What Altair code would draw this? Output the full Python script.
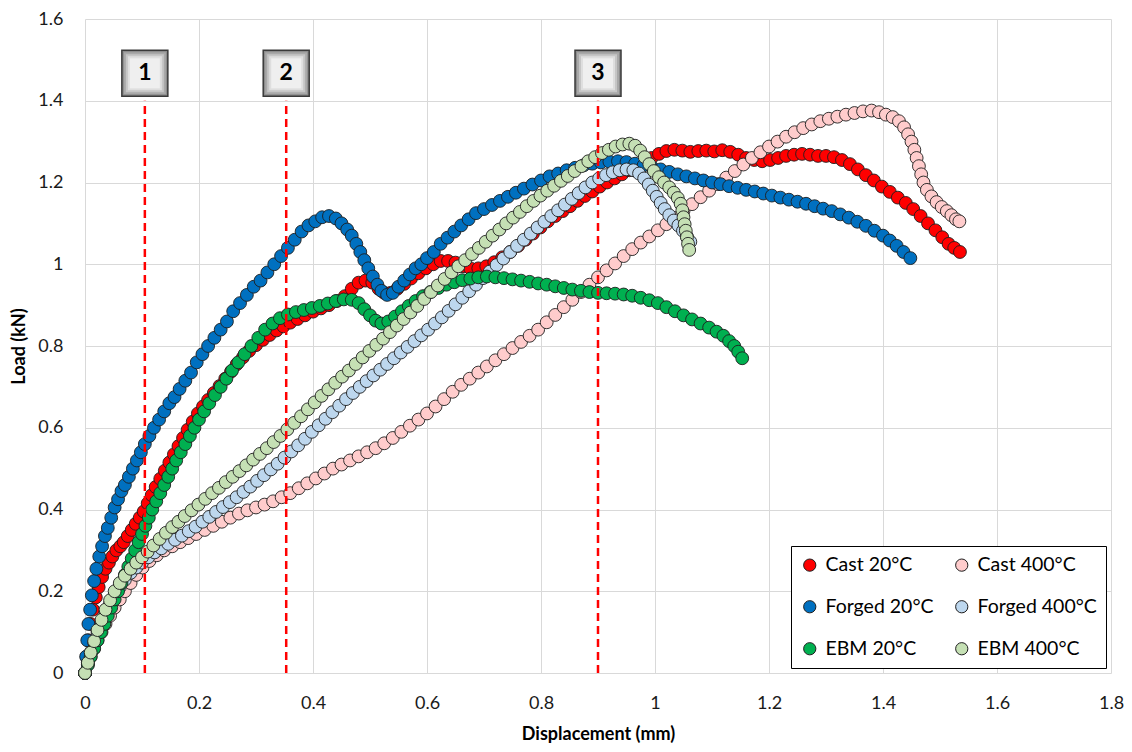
import altair as alt
import pandas as pd

series_names = ["Cast 20°C", "Cast 400°C", "Forged 20°C", "Forged 400°C", "EBM 20°C", "EBM 400°C"]
series_colors = ["#FF0000", "#FFCCCC", "#0070C0", "#BDD7EE", "#00B050", "#C5E0B4"]
# legend fills column by column: first column = 20°C, second column = 400°C
legend_order = ["Cast 20°C", "Forged 20°C", "EBM 20°C", "Cast 400°C", "Forged 400°C", "EBM 400°C"]

x_ticks = [0, 0.2, 0.4, 0.6, 0.8, 1.0, 1.2, 1.4, 1.6, 1.8]
y_ticks = [0, 0.2, 0.4, 0.6, 0.8, 1.0, 1.2, 1.4, 1.6]

marker_x = [0.105, 0.353, 0.9]
marker_labels = ["1", "2", "3"]
marker_box_y = 1.467
marker_line_top = 1.40

cast20 = [[0, 0], [0.003, 0.04], [0.006, 0.08], [0.01, 0.12], [0.014, 0.155], [0.019, 0.185], [0.024, 0.21],
          [0.03, 0.235], [0.036, 0.255], [0.042, 0.27], [0.048, 0.285], [0.055, 0.3], [0.062, 0.31], [0.068, 0.32],
          [0.075, 0.335], [0.082, 0.35], [0.089, 0.365], [0.096, 0.38], [0.103, 0.395], [0.11, 0.415], [0.117, 0.435],
          [0.124, 0.455], [0.132, 0.475], [0.14, 0.495], [0.148, 0.515], [0.156, 0.535], [0.164, 0.555], [0.172, 0.575],
          [0.18, 0.595], [0.189, 0.615], [0.198, 0.635], [0.207, 0.652], [0.216, 0.668], [0.226, 0.685], [0.236, 0.702],
          [0.246, 0.72], [0.256, 0.737], [0.266, 0.755], [0.277, 0.772], [0.288, 0.788], [0.3, 0.802], [0.312, 0.815],
          [0.324, 0.827], [0.336, 0.838], [0.348, 0.848], [0.36, 0.857], [0.373, 0.866], [0.386, 0.875], [0.4, 0.884],
          [0.414, 0.892], [0.428, 0.9], [0.442, 0.91], [0.456, 0.922], [0.468, 0.94], [0.48, 0.955], [0.492, 0.96],
          [0.504, 0.955], [0.515, 0.94], [0.525, 0.93], [0.536, 0.93], [0.548, 0.94], [0.56, 0.952], [0.572, 0.965],
          [0.585, 0.978], [0.598, 0.99], [0.611, 1.0], [0.624, 1.008], [0.637, 1.008], [0.65, 1.004], [0.663, 0.995],
          [0.676, 0.99], [0.69, 0.99], [0.704, 0.995], [0.718, 1.005], [0.732, 1.017], [0.746, 1.03], [0.76, 1.045],
          [0.773, 1.06], [0.786, 1.075], [0.799, 1.09], [0.812, 1.105], [0.825, 1.118], [0.838, 1.13], [0.851, 1.142],
          [0.864, 1.155], [0.877, 1.167], [0.89, 1.178], [0.903, 1.19], [0.916, 1.2], [0.929, 1.21], [0.942, 1.22],
          [0.955, 1.23], [0.968, 1.24], [0.981, 1.25], [0.994, 1.26], [1.007, 1.27], [1.02, 1.277], [1.034, 1.28],
          [1.048, 1.278], [1.062, 1.275], [1.076, 1.277], [1.09, 1.278], [1.104, 1.276], [1.118, 1.279], [1.132, 1.275],
          [1.146, 1.268], [1.16, 1.26], [1.174, 1.255], [1.188, 1.252], [1.202, 1.255], [1.216, 1.26], [1.23, 1.265],
          [1.244, 1.268], [1.258, 1.27], [1.272, 1.268], [1.286, 1.265], [1.3, 1.265], [1.314, 1.262], [1.328, 1.255],
          [1.342, 1.245], [1.356, 1.232], [1.37, 1.218], [1.384, 1.205], [1.398, 1.19], [1.412, 1.177], [1.426, 1.163],
          [1.44, 1.15], [1.453, 1.135], [1.466, 1.118], [1.479, 1.1], [1.492, 1.083], [1.504, 1.066], [1.515, 1.05],
          [1.525, 1.04], [1.535, 1.03]]

cast400 = [[0, 0], [0.005, 0.02], [0.01, 0.04], [0.016, 0.06], [0.022, 0.08], [0.029, 0.1], [0.036, 0.12],
           [0.044, 0.14], [0.052, 0.16], [0.061, 0.18], [0.07, 0.2], [0.08, 0.22], [0.09, 0.24], [0.101, 0.258],
           [0.113, 0.274], [0.126, 0.288], [0.139, 0.3], [0.153, 0.31], [0.167, 0.32], [0.181, 0.33], [0.195, 0.34],
           [0.21, 0.35], [0.225, 0.36], [0.24, 0.37], [0.255, 0.38], [0.27, 0.39], [0.285, 0.398], [0.3, 0.405],
           [0.315, 0.412], [0.33, 0.42], [0.345, 0.43], [0.36, 0.44], [0.375, 0.452], [0.39, 0.464], [0.405, 0.476],
           [0.42, 0.488], [0.435, 0.5], [0.45, 0.51], [0.465, 0.52], [0.48, 0.53], [0.495, 0.54], [0.51, 0.55],
           [0.525, 0.562], [0.54, 0.575], [0.555, 0.59], [0.57, 0.605], [0.585, 0.62], [0.6, 0.635], [0.615, 0.652],
           [0.63, 0.67], [0.645, 0.688], [0.66, 0.705], [0.675, 0.72], [0.69, 0.735], [0.705, 0.75], [0.72, 0.765],
           [0.735, 0.78], [0.75, 0.795], [0.765, 0.81], [0.78, 0.825], [0.795, 0.84], [0.81, 0.858], [0.825, 0.876],
           [0.84, 0.895], [0.855, 0.913], [0.87, 0.932], [0.885, 0.95], [0.9, 0.968], [0.915, 0.985], [0.93, 1.002],
           [0.945, 1.02], [0.96, 1.037], [0.975, 1.053], [0.99, 1.068], [1.005, 1.083], [1.02, 1.098], [1.035, 1.113],
           [1.05, 1.13], [1.065, 1.147], [1.08, 1.164], [1.095, 1.18], [1.11, 1.196], [1.125, 1.212], [1.14, 1.228],
           [1.155, 1.244], [1.17, 1.26], [1.185, 1.274], [1.2, 1.288], [1.215, 1.3], [1.23, 1.312], [1.245, 1.323],
           [1.26, 1.333], [1.275, 1.342], [1.29, 1.35], [1.305, 1.356], [1.32, 1.361], [1.335, 1.366], [1.35, 1.37],
           [1.365, 1.374], [1.38, 1.376], [1.393, 1.372], [1.405, 1.366], [1.417, 1.36], [1.428, 1.35], [1.437, 1.335],
           [1.444, 1.318], [1.45, 1.3], [1.455, 1.28], [1.459, 1.26], [1.463, 1.24], [1.467, 1.22], [1.471, 1.2],
           [1.477, 1.182], [1.485, 1.166], [1.494, 1.152], [1.503, 1.14], [1.512, 1.13], [1.52, 1.12], [1.528, 1.11],
           [1.534, 1.105]]

forged20 = [[0, 0], [0.002, 0.04], [0.004, 0.08], [0.006, 0.12], [0.009, 0.155], [0.012, 0.19], [0.016, 0.225],
            [0.02, 0.255], [0.025, 0.285], [0.03, 0.31], [0.035, 0.335], [0.04, 0.355], [0.046, 0.38], [0.052, 0.405],
            [0.058, 0.425], [0.064, 0.445], [0.07, 0.46], [0.077, 0.48], [0.084, 0.5], [0.091, 0.52], [0.098, 0.54],
            [0.105, 0.56], [0.113, 0.58], [0.121, 0.6], [0.13, 0.62], [0.139, 0.64], [0.148, 0.66], [0.157, 0.675],
            [0.166, 0.695], [0.176, 0.715], [0.186, 0.735], [0.196, 0.76], [0.206, 0.78], [0.216, 0.8], [0.227, 0.82],
            [0.238, 0.84], [0.249, 0.86], [0.26, 0.885], [0.272, 0.905], [0.284, 0.925], [0.296, 0.945], [0.308, 0.96],
            [0.32, 0.98], [0.332, 1.0], [0.344, 1.02], [0.356, 1.04], [0.368, 1.06], [0.38, 1.08], [0.392, 1.095],
            [0.404, 1.105], [0.416, 1.115], [0.428, 1.118], [0.44, 1.112], [0.45, 1.1], [0.46, 1.085], [0.468, 1.07],
            [0.476, 1.05], [0.483, 1.03], [0.49, 1.01], [0.497, 0.99], [0.505, 0.97], [0.513, 0.95], [0.52, 0.935],
            [0.53, 0.925], [0.54, 0.93], [0.55, 0.945], [0.56, 0.96], [0.57, 0.975], [0.58, 0.99], [0.59, 1.0],
            [0.6, 1.015], [0.612, 1.03], [0.624, 1.05], [0.636, 1.065], [0.648, 1.08], [0.66, 1.095], [0.673, 1.11],
            [0.686, 1.125], [0.7, 1.135], [0.714, 1.145], [0.728, 1.155], [0.742, 1.165], [0.756, 1.175], [0.77, 1.185],
            [0.785, 1.195], [0.8, 1.205], [0.815, 1.215], [0.83, 1.222], [0.845, 1.23], [0.86, 1.236], [0.875, 1.242],
            [0.89, 1.246], [0.905, 1.249], [0.92, 1.251], [0.935, 1.252], [0.95, 1.25], [0.965, 1.246], [0.98, 1.242],
            [0.995, 1.237], [1.01, 1.232], [1.025, 1.226], [1.04, 1.22], [1.055, 1.215], [1.07, 1.21], [1.085, 1.205],
            [1.1, 1.2], [1.115, 1.196], [1.13, 1.191], [1.145, 1.187], [1.16, 1.182], [1.175, 1.178], [1.19, 1.173],
            [1.205, 1.168], [1.22, 1.163], [1.235, 1.158], [1.25, 1.153], [1.265, 1.148], [1.28, 1.142], [1.295, 1.136],
            [1.31, 1.13], [1.325, 1.122], [1.34, 1.114], [1.355, 1.104], [1.37, 1.094], [1.385, 1.082], [1.4, 1.07],
            [1.412, 1.058], [1.424, 1.045], [1.436, 1.03], [1.448, 1.015]]

forged400 = [[0, 0], [0.005, 0.025], [0.01, 0.05], [0.016, 0.075], [0.022, 0.1], [0.029, 0.125], [0.036, 0.148],
             [0.044, 0.17], [0.052, 0.19], [0.061, 0.21], [0.07, 0.228], [0.08, 0.245], [0.09, 0.258], [0.1, 0.27],
             [0.111, 0.283], [0.122, 0.295], [0.134, 0.305], [0.146, 0.316], [0.158, 0.326], [0.17, 0.336],
             [0.182, 0.347], [0.194, 0.358], [0.206, 0.37], [0.218, 0.382], [0.23, 0.394], [0.242, 0.406],
             [0.254, 0.418], [0.266, 0.43], [0.278, 0.443], [0.29, 0.456], [0.302, 0.47], [0.314, 0.484],
             [0.326, 0.498], [0.338, 0.512], [0.35, 0.527], [0.362, 0.542], [0.374, 0.557], [0.386, 0.573],
             [0.398, 0.59], [0.41, 0.606], [0.422, 0.622], [0.434, 0.638], [0.446, 0.654], [0.458, 0.67],
             [0.47, 0.685], [0.482, 0.7], [0.494, 0.714], [0.506, 0.728], [0.518, 0.742], [0.53, 0.756],
             [0.542, 0.77], [0.554, 0.784], [0.566, 0.798], [0.578, 0.812], [0.59, 0.826], [0.602, 0.84],
             [0.614, 0.855], [0.626, 0.87], [0.638, 0.886], [0.65, 0.902], [0.662, 0.918], [0.674, 0.934],
             [0.686, 0.95], [0.698, 0.966], [0.71, 0.982], [0.722, 0.998], [0.734, 1.014], [0.746, 1.03],
             [0.758, 1.045], [0.77, 1.06], [0.782, 1.075], [0.794, 1.09], [0.806, 1.104], [0.818, 1.118],
             [0.83, 1.132], [0.842, 1.146], [0.854, 1.16], [0.866, 1.174], [0.878, 1.188], [0.89, 1.2],
             [0.902, 1.21], [0.914, 1.218], [0.926, 1.225], [0.938, 1.23], [0.95, 1.232], [0.962, 1.23],
             [0.972, 1.222], [0.981, 1.21], [0.989, 1.195], [0.996, 1.18], [1.003, 1.165], [1.01, 1.15],
             [1.017, 1.135], [1.025, 1.12], [1.033, 1.107], [1.041, 1.095], [1.049, 1.082], [1.056, 1.068],
             [1.062, 1.055]]

ebm20 = [[0, 0], [0.005, 0.02], [0.01, 0.04], [0.016, 0.06], [0.022, 0.08], [0.028, 0.1], [0.034, 0.12],
         [0.04, 0.14], [0.046, 0.16], [0.052, 0.18], [0.058, 0.2], [0.064, 0.22], [0.07, 0.24], [0.076, 0.26],
         [0.082, 0.28], [0.088, 0.3], [0.094, 0.32], [0.1, 0.34], [0.106, 0.36], [0.112, 0.38], [0.118, 0.4],
         [0.125, 0.42], [0.132, 0.44], [0.139, 0.46], [0.146, 0.48], [0.153, 0.5], [0.16, 0.52], [0.168, 0.54],
         [0.176, 0.56], [0.184, 0.58], [0.192, 0.6], [0.2, 0.62], [0.209, 0.64], [0.218, 0.66], [0.228, 0.68],
         [0.238, 0.7], [0.248, 0.72], [0.258, 0.74], [0.269, 0.76], [0.28, 0.78], [0.292, 0.8], [0.304, 0.82],
         [0.316, 0.84], [0.329, 0.855], [0.342, 0.868], [0.356, 0.877], [0.37, 0.883], [0.384, 0.888],
         [0.398, 0.893], [0.412, 0.898], [0.426, 0.904], [0.44, 0.91], [0.454, 0.914], [0.468, 0.913],
         [0.48, 0.905], [0.49, 0.89], [0.5, 0.875], [0.51, 0.862], [0.52, 0.855], [0.532, 0.86], [0.544, 0.872],
         [0.556, 0.885], [0.568, 0.898], [0.58, 0.91], [0.593, 0.922], [0.606, 0.932], [0.62, 0.942],
         [0.634, 0.95], [0.648, 0.956], [0.662, 0.961], [0.676, 0.965], [0.69, 0.968], [0.705, 0.97],
         [0.72, 0.968], [0.735, 0.966], [0.75, 0.963], [0.765, 0.96], [0.78, 0.957], [0.795, 0.953], [0.81, 0.95],
         [0.825, 0.946], [0.84, 0.942], [0.855, 0.938], [0.87, 0.935], [0.885, 0.932], [0.9, 0.93], [0.915, 0.929],
         [0.93, 0.928], [0.945, 0.926], [0.96, 0.923], [0.975, 0.918], [0.99, 0.912], [1.005, 0.905], [1.02, 0.895],
         [1.035, 0.885], [1.05, 0.875], [1.065, 0.865], [1.08, 0.855], [1.095, 0.845], [1.108, 0.835], [1.12, 0.825],
         [1.13, 0.812], [1.139, 0.8], [1.146, 0.786], [1.153, 0.77]]

ebm400 = [[0, 0], [0.005, 0.025], [0.01, 0.05], [0.016, 0.078], [0.022, 0.105], [0.029, 0.13], [0.036, 0.155],
          [0.044, 0.178], [0.052, 0.2], [0.061, 0.22], [0.07, 0.238], [0.08, 0.255], [0.09, 0.27], [0.1, 0.283],
          [0.11, 0.297], [0.12, 0.312], [0.131, 0.328], [0.142, 0.343], [0.153, 0.357], [0.164, 0.37],
          [0.175, 0.384], [0.187, 0.398], [0.199, 0.412], [0.211, 0.426], [0.223, 0.44], [0.235, 0.453],
          [0.247, 0.467], [0.259, 0.48], [0.271, 0.494], [0.283, 0.508], [0.295, 0.522], [0.307, 0.536],
          [0.319, 0.55], [0.331, 0.565], [0.343, 0.58], [0.355, 0.596], [0.367, 0.612], [0.379, 0.628],
          [0.391, 0.645], [0.403, 0.662], [0.415, 0.678], [0.427, 0.694], [0.439, 0.71], [0.451, 0.725],
          [0.463, 0.74], [0.475, 0.756], [0.487, 0.772], [0.499, 0.788], [0.511, 0.803], [0.523, 0.818],
          [0.535, 0.834], [0.547, 0.85], [0.559, 0.866], [0.571, 0.882], [0.583, 0.898], [0.595, 0.915],
          [0.607, 0.932], [0.619, 0.948], [0.631, 0.964], [0.643, 0.98], [0.655, 0.995], [0.667, 1.01],
          [0.679, 1.025], [0.691, 1.04], [0.703, 1.055], [0.715, 1.07], [0.727, 1.085], [0.739, 1.1],
          [0.751, 1.114], [0.763, 1.128], [0.775, 1.142], [0.787, 1.155], [0.799, 1.168], [0.811, 1.18],
          [0.823, 1.192], [0.835, 1.204], [0.847, 1.216], [0.859, 1.228], [0.871, 1.24], [0.883, 1.252],
          [0.895, 1.262], [0.907, 1.272], [0.919, 1.28], [0.931, 1.288], [0.943, 1.293], [0.955, 1.295],
          [0.965, 1.29], [0.974, 1.278], [0.982, 1.262], [0.99, 1.245], [0.998, 1.228], [1.007, 1.213],
          [1.016, 1.2], [1.025, 1.188], [1.033, 1.175], [1.04, 1.162], [1.045, 1.148], [1.048, 1.132],
          [1.05, 1.115], [1.052, 1.098], [1.054, 1.082], [1.056, 1.066], [1.058, 1.05], [1.06, 1.035]]

all_series = [cast20, cast400, forged20, forged400, ebm20, ebm400]

rows = []
k = 0
for name, pts in zip(series_names, all_series):
    for px, py in pts:
        rows.append({"series": name, "disp": px, "load": py, "k": k})
        k += 1
df = pd.DataFrame(rows)

color_of = dict(zip(series_names, series_colors))
legend_colors = [color_of[n] for n in legend_order]

marks_df = pd.DataFrame({"x": marker_x, "label": marker_labels,
                         "y": [marker_box_y] * 3, "y0": [0.0] * 3, "ytop": [marker_line_top] * 3})

FONT = "Lato"
xs = alt.Scale(domain=[0, 1.8], nice=False, zero=False)
ys = alt.Scale(domain=[0, 1.6], nice=False, zero=False)

points = alt.Chart(df).mark_circle(size=165, stroke="#1e1e1e", strokeWidth=0.9, opacity=1).encode(
    x=alt.X("disp:Q", scale=xs, title="Displacement (mm)",
            axis=alt.Axis(values=x_ticks, format="~g", labelPadding=21, titlePadding=13, labelFlush=False)),
    y=alt.Y("load:Q", scale=ys, title="Load (kN)",
            axis=alt.Axis(values=y_ticks, format="~g", labelPadding=22, titlePadding=9, labelFlush=False)),
    color=alt.Color("series:N", scale=alt.Scale(domain=legend_order, range=legend_colors),
                    legend=alt.Legend(title=None, orient="none", legendX=706, legendY=527, columns=2,
                                      direction="vertical",
                                      fillColor="white", strokeColor="black", padding=9,
                                      labelFont=FONT, labelFontSize=19.5, labelColor="black",
                                      symbolType="circle", symbolSize=150, symbolStrokeColor="#1e1e1e",
                                      symbolStrokeWidth=1, symbolOpacity=1, labelOffset=6,
                                      columnPadding=18, rowPadding=21, labelLimit=300)),
    order=alt.Order("k:Q"),
)

rules = alt.Chart(marks_df).mark_rule(color="#FF0000", strokeWidth=2.5, strokeDash=[8, 5]).encode(
    x=alt.X("x:Q", scale=xs), y=alt.Y("y0:Q", scale=ys), y2="ytop:Q")

box_layers = []
for side, fill in [(46, "#8C8C8C"), (42, "#A9A9A9"), (38, "#C6C6C6"), (34, "#DEDEDE"), (30, "#EFEFEF")]:
    extra = {"stroke": "#3a3a3a", "strokeWidth": 1.5} if side == 46 else {"strokeWidth": 0}
    box_layers.append(
        alt.Chart(marks_df).mark_square(size=side * side, fill=fill, opacity=1, **extra).encode(
            x=alt.X("x:Q", scale=xs), y=alt.Y("y:Q", scale=ys)))

box_text = alt.Chart(marks_df).mark_text(font=FONT, fontSize=23, fontWeight="bold", color="black").encode(
    x=alt.X("x:Q", scale=xs), y=alt.Y("y:Q", scale=ys), text="label:N")

chart = alt.layer(points, rules, *box_layers, box_text).properties(
    width=1026, height=654,
    autosize=alt.AutoSizeParams(type="none"),
    padding={"left": 77, "top": 11, "right": 13, "bottom": 71},
    background="white",
).configure_axis(
    grid=True, gridColor="#D9D9D9", gridWidth=1, domain=False, ticks=False,
    labelFont=FONT, labelFontSize=18, labelColor="#1a1a1a",
    titleFont=FONT, titleFontSize=18, titleFontWeight="bold", titleColor="black",
).configure_view(stroke=None)

chart.save("out.html", embed_options={"renderer": "svg", "actions": False})
